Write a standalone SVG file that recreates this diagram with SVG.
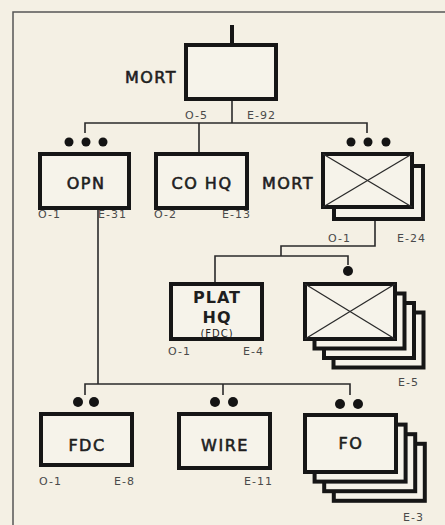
<svg xmlns="http://www.w3.org/2000/svg" width="445" height="525" viewBox="0 0 445 525">
<defs>
<style>
.bg{fill:#f4f0e4}
.box{fill:#f6f3ea;stroke:#161616;stroke-width:4}
.ln{fill:none;stroke:#2a2a2a;stroke-width:1.6}
.x{stroke:#2a2a2a;stroke-width:1.3}
.dot{fill:#141414}
.name{font-family:"DejaVu Sans",sans-serif;font-size:16px;fill:#1e1e1e;stroke:#1e1e1e;stroke-width:0.6px;letter-spacing:1.5px;text-anchor:middle}
.side{font-family:"DejaVu Sans",sans-serif;font-size:16px;fill:#1e1e1e;stroke:#1e1e1e;stroke-width:0.6px;letter-spacing:1.5px;text-anchor:end}
.lab{font-family:"DejaVu Sans",sans-serif;font-size:11px;fill:#4a4a4a;letter-spacing:1px}
.labr{font-family:"DejaVu Sans",sans-serif;font-size:11px;fill:#4a4a4a;letter-spacing:1px;text-anchor:end}
</style>
</defs>
<rect class="bg" x="0" y="0" width="445" height="525"/>
<polyline points="13,525 13,12 445,12" fill="none" stroke="#555" stroke-width="1.5"/>

<g id="connectors">
<line x1="232" y1="25" x2="232" y2="45" stroke="#161616" stroke-width="4"/>
<polyline class="ln" points="232,99 232,123"/>
<polyline class="ln" points="85,133 85,123 367,123 367,133"/>
<polyline class="ln" points="199,123 199,152"/>
<polyline class="ln" points="375,221 375,246 281,246 281,256"/>
<polyline class="ln" points="215,282 215,256 348,256 348,265"/>
<polyline class="ln" points="98,210 98,384"/>
<polyline class="ln" points="85,395 85,384 350,384 350,395"/>
<polyline class="ln" points="223,384 223,395"/>
</g>

<g id="mort-top">
<rect class="box" x="186" y="45" width="90" height="54"/>
<text class="side" x="177" y="83">MORT</text>
<text class="lab" x="185" y="119">O-5</text>
<text class="lab" x="247" y="119">E-92</text>
</g>

<g id="opn">
<circle class="dot" cx="69" cy="142" r="4.5"/><circle class="dot" cx="86" cy="142" r="4.5"/><circle class="dot" cx="103" cy="142" r="4.5"/>
<rect class="box" x="40" y="154" width="89" height="54"/>
<text class="name" x="86" y="189">OPN</text>
<text class="lab" x="38" y="218">O-1</text>
<text class="labr" x="127" y="218">E-31</text>
</g>

<g id="cohq">
<rect class="box" x="156" y="154" width="91" height="54"/>
<text class="name" x="202" y="189">CO HQ</text>
<text class="lab" x="154" y="218">O-2</text>
<text class="labr" x="251" y="218">E-13</text>
</g>

<g id="mort-plt">
<circle class="dot" cx="351" cy="142" r="4.5"/><circle class="dot" cx="368" cy="142" r="4.5"/><circle class="dot" cx="386" cy="142" r="4.5"/>
<text class="side" x="314" y="189">MORT</text>
<rect class="box" x="334" y="166" width="89" height="53"/>
<rect class="box" x="323" y="154" width="89" height="53"/>
<line class="x" x1="323" y1="154" x2="412" y2="207"/>
<line class="x" x1="412" y1="154" x2="323" y2="207"/>
<text class="lab" x="328" y="242">O-1</text>
<text class="labr" x="426" y="242">E-24</text>
</g>

<g id="plathq">
<rect class="box" x="171" y="284" width="91" height="55"/>
<text class="name" x="217" y="303" style="font-weight:bold;stroke-width:0;letter-spacing:1px">PLAT</text>
<text class="name" x="217" y="323" style="font-weight:bold;stroke-width:0;letter-spacing:1px">HQ</text>
<text class="name" x="217" y="337" style="font-size:10px;stroke-width:0;letter-spacing:1px">(FDC)</text>
<text class="lab" x="168" y="355">O-1</text>
<text class="labr" x="264" y="355">E-4</text>
</g>

<g id="squads">
<circle class="dot" cx="348" cy="271" r="5"/>
<rect class="box" x="333.5" y="312.5" width="90" height="55"/>
<rect class="box" x="324" y="303" width="90" height="55"/>
<rect class="box" x="314.5" y="293.5" width="90" height="55"/>
<rect class="box" x="305" y="284" width="90" height="55"/>
<line class="x" x1="305" y1="284" x2="395" y2="339"/>
<line class="x" x1="395" y1="284" x2="305" y2="339"/>
<text class="lab" x="398" y="386">E-5</text>
</g>

<g id="fdc">
<circle class="dot" cx="78" cy="402" r="5"/><circle class="dot" cx="94" cy="402" r="5"/>
<rect class="box" x="41" y="414" width="91" height="51"/>
<text class="name" x="87" y="451">FDC</text>
<text class="lab" x="39" y="485">O-1</text>
<text class="labr" x="135" y="485">E-8</text>
</g>

<g id="wire">
<circle class="dot" cx="215" cy="402" r="5"/><circle class="dot" cx="233" cy="402" r="5"/>
<rect class="box" x="179" y="414" width="91" height="54"/>
<text class="name" x="225" y="451">WIRE</text>
<text class="labr" x="273" y="485">E-11</text>
</g>

<g id="fo">
<circle class="dot" cx="340" cy="404" r="5"/><circle class="dot" cx="358" cy="404" r="5"/>
<rect class="box" x="333.8" y="443.8" width="91" height="57"/>
<rect class="box" x="324.2" y="434.2" width="91" height="57"/>
<rect class="box" x="314.6" y="424.6" width="91" height="57"/>
<rect class="box" x="305" y="415" width="91" height="57"/>
<text class="name" x="351" y="449">FO</text>
<text class="lab" x="403" y="521">E-3</text>
</g>
</svg>
